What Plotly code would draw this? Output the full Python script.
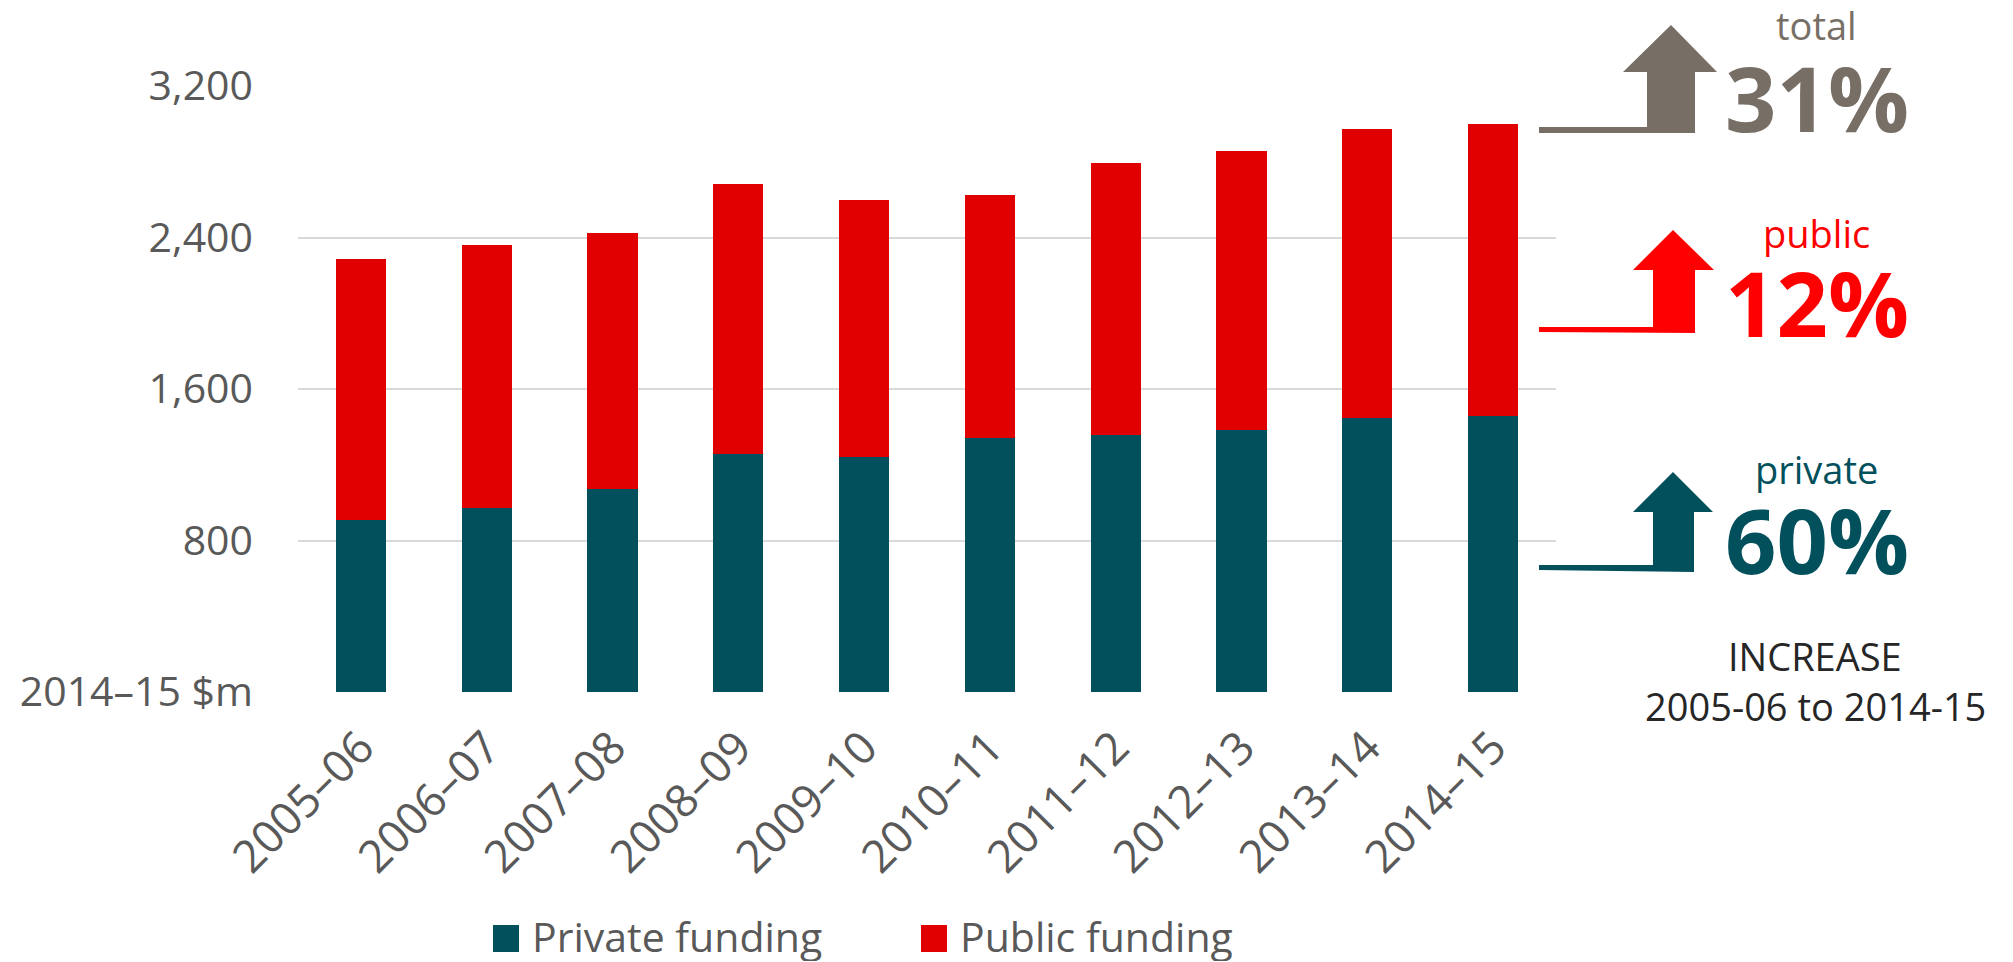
import plotly.graph_objects as go

# ---------------- data ----------------
years = ["2005–06", "2006–07", "2007–08", "2008–09", "2009–10",
         "2010–11", "2011–12", "2012–13", "2013–14", "2014–15"]
private_funding = [907, 973, 1070, 1258, 1241, 1340, 1357, 1382, 1445, 1457]
public_funding = [1379, 1387, 1355, 1426, 1355, 1286, 1436, 1475, 1526, 1542]
series_names = ["Private funding", "Public funding"]
y_tick_vals = [0, 800, 1600, 2400, 3200]
y_tick_text = ["2014–15 $m", "800", "1,600", "2,400", "3,200"]
increase_labels = ["total", "public", "private"]
increase_values = ["31%", "12%", "60%"]
footnote_lines = ["INCREASE", "2005-06 to 2014-15"]

# ---------------- style ----------------
OFF = 8  # default page body margin
W, H = 2013, 962
L, R, T, B = 298, 1556, 86, 692
TEAL = "#02505C"
RED_BAR = "#E00000"
RED = "#FF0000"
GREY = "#776F66"
AXIS_TXT = "#595959"
FONT = "Open Sans"


def px(x):
    return (x - L) / (R - L)


def py(y):
    return (B - y) / (B - T)


fig = go.Figure()
fig.add_trace(go.Bar(x=years, y=private_funding, name=series_names[0],
                     marker=dict(color=TEAL, line=dict(width=0)), showlegend=False))
fig.add_trace(go.Bar(x=years, y=public_funding, name=series_names[1],
                     marker=dict(color=RED_BAR, line=dict(width=0)), showlegend=False))

shapes = []
annotations = []

# manual legend
legend_items = [(493, 534, TEAL), (921, 962, RED_BAR)]
for (sx, tx, col), name in zip(legend_items, series_names):
    shapes.append(dict(type="rect", xref="paper", yref="paper",
                       x0=px(sx), x1=px(sx + 26), y0=py(952), y1=py(925),
                       fillcolor=col, line=dict(width=0)))
    annotations.append(dict(xref="paper", yref="paper", x=px(tx - 4), y=py(936),
                            xanchor="left", yanchor="middle", showarrow=False,
                            height=50, valign="middle",
                            text=name, font=dict(family=FONT, size=41, color=AXIS_TXT)))


def arrow_path(line_y, thick, sx0, sx1, s_top, s_bot, hx0, hx1, tip_x, tip_y):
    pts = [
        (1539, line_y - thick / 2), (sx0, line_y - thick / 2), (sx0, s_top),
        (hx0, s_top), (tip_x, tip_y), (hx1, s_top), (sx1, s_top), (sx1, s_bot),
        (1539, line_y + thick / 2),
    ]
    return "M " + " L ".join(f"{px(x):.5f},{py(y):.5f}" for x, y in pts) + " Z"


arrows = [
    (GREY, arrow_path(130, 6, 1647, 1695, 72, 133, 1623, 1717, 1671, 25)),
    (RED, arrow_path(329.5, 5, 1653, 1695, 270, 333, 1633, 1714, 1673, 230)),
    (TEAL, arrow_path(567.5, 5, 1653, 1694, 512, 572, 1633, 1713, 1673, 472)),
]
for col, d in arrows:
    shapes.append(dict(type="path", xref="paper", yref="paper", path=d,
                       fillcolor=col, line=dict(width=0)))

label_cfg = [
    (GREY, 25, 40, 97), (RED, 233, 50, 302), (TEAL, 469, 50, 539),
]
for (col, ly, lh, vy), lab, val in zip(label_cfg, increase_labels, increase_values):
    annotations.append(dict(xref="paper", yref="paper", x=px(1816), y=py(ly),
                            xanchor="center", yanchor="middle", showarrow=False,
                            height=lh, valign="middle",
                            text=lab, font=dict(family=FONT, size=38, color=col)))
    annotations.append(dict(xref="paper", yref="paper", x=px(1817), y=py(vy),
                            xanchor="center", yanchor="middle", showarrow=False,
                            height=82, valign="middle",
                            text=f"<b>{val}</b>", font=dict(family=FONT, size=90, color=col)))

for txt, yy in zip(footnote_lines, [656, 706]):
    annotations.append(dict(xref="paper", yref="paper", x=px(1815), y=py(yy),
                            xanchor="center", yanchor="middle", showarrow=False,
                            height=44, valign="middle",
                            text=txt, font=dict(family=FONT, size=38, color="#262626")))

fig.update_layout(
    width=W - OFF, height=H - OFF, autosize=False,
    margin=dict(l=L - OFF, r=W - R, t=T - OFF, b=H - B, pad=0),
    barmode="stack", bargap=0.6,
    plot_bgcolor="white", paper_bgcolor="white",
    font=dict(family=FONT, color=AXIS_TXT),
    shapes=shapes, annotations=annotations,
    showlegend=False,
)
fig.update_yaxes(range=[0, 3200], tickvals=y_tick_vals, ticktext=y_tick_text,
                 showgrid=True, gridcolor="#D9D9D9", gridwidth=2,
                 zeroline=False, showline=False,
                 tickfont=dict(family=FONT, size=41, color=AXIS_TXT),
                 ticklabelstandoff=44)
fig.update_xaxes(tickangle=-45, showline=False, showgrid=False,
                 tickfont=dict(family=FONT, size=45, color=AXIS_TXT),
                 ticklabelstandoff=19)

fig.write_html("out.html")
